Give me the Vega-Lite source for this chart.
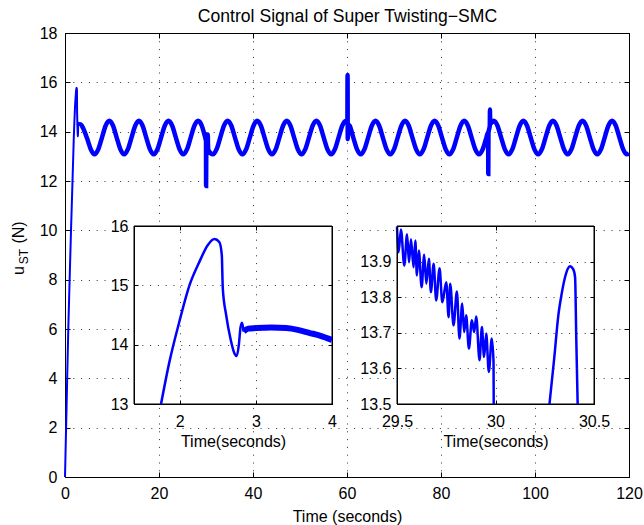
{
  "$schema": "https://vega.github.io/schema/vega-lite/v6.json",
  "width": 564,
  "height": 444,
  "autosize": {"type": "none"},
  "padding": {"left": 65, "top": 33, "right": 15, "bottom": 48},
  "background": "white",
  "config": {
    "font": "Liberation Sans",
    "view": {"stroke": "black", "strokeWidth": 1},
    "axis": {
      "labelFont": "Liberation Sans", "labelFontSize": 16, "labelColor": "black",
      "titleFont": "Liberation Sans", "titleFontSize": 16, "titleFontWeight": "normal", "titleColor": "black",
      "domainColor": "black", "domainWidth": 1, "tickColor": "black", "tickWidth": 1,
      "gridColor": "#333333", "gridDash": [1, 6.8], "gridWidth": 1, "gridOpacity": 1,
      "labelFlush": false, "labelOverlap": false, "labelBound": false
    }
  },
  "datasets": {
    "main": [
      {"t":0,"u":0},{"t":0.35,"u":3},{"t":0.7,"u":6},{"t":1.0,"u":8.1},{"t":1.28,"u":10},{"t":1.55,"u":11.7},{"t":1.755,"u":13.0},{"t":1.865,"u":13.71},{"t":1.996,"u":14.39},{"t":2.128,"u":15.0},{"t":2.26,"u":15.4},{"t":2.37,"u":15.68},{"t":2.457,"u":15.78},{"t":2.52,"u":15.73},{"t":2.553,"u":15.51},{"t":2.566,"u":14.95},{"t":2.61,"u":14.5},{"t":2.667,"u":14.1},{"t":2.72,"u":13.85},{"t":2.75,"u":13.81},{"t":2.776,"u":13.99},{"t":2.8,"u":14.3},{"t":2.82,"u":14.37},{"t":2.84,"u":14.25},
      {"t":2.9,"u":14.27},{"t":3.14,"u":14.3},{"t":3.4,"u":14.28},{"t":3.62,"u":14.23},{"t":3.84,"u":14.15},{"t":4.0,"u":14.08},{"t":4.71,"u":13.72},{"t":5.5,"u":13.28},{"t":6.29,"u":13.08},{"t":7.07,"u":13.28},{"t":7.86,"u":13.76},{"t":8.64,"u":14.24},
      {"t":9.43,"u":14.44},{"t":10.22,"u":14.24},{"t":11.0,"u":13.76},{"t":11.79,"u":13.28},{"t":12.58,"u":13.08},{"t":13.36,"u":13.28},{"t":14.15,"u":13.76},{"t":14.94,"u":14.24},
      {"t":15.72,"u":14.44},{"t":16.51,"u":14.24},{"t":17.29,"u":13.76},{"t":18.08,"u":13.28},{"t":18.87,"u":13.08},{"t":19.65,"u":13.28},{"t":20.44,"u":13.76},{"t":21.23,"u":14.24},
      {"t":22.02,"u":14.44},{"t":22.81,"u":14.24},{"t":23.59,"u":13.76},{"t":24.38,"u":13.28},{"t":25.17,"u":13.08},{"t":25.95,"u":13.28},{"t":26.74,"u":13.76},{"t":27.53,"u":14.24},
      {"t":28.31,"u":14.44},{"t":29.1,"u":14.24},{"t":29.5,"u":14.0},{"t":29.88,"u":13.72},{"t":30.0,"u":13.62},{"t":30.02,"u":11.8},{"t":30.06,"u":13.2},{"t":30.2,"u":13.3},{"t":30.27,"u":13.5},{"t":30.32,"u":13.75},{"t":30.38,"u":13.89},{"t":30.42,"u":13.5},{"t":30.5,"u":13.25},{"t":31.46,"u":13.08},{"t":32.24,"u":13.28},{"t":33.03,"u":13.76},{"t":33.82,"u":14.24},
      {"t":34.6,"u":14.44},{"t":35.39,"u":14.24},{"t":36.17,"u":13.76},{"t":36.96,"u":13.28},{"t":37.75,"u":13.08},{"t":38.53,"u":13.28},{"t":39.32,"u":13.76},{"t":40.11,"u":14.24},
      {"t":40.89,"u":14.44},{"t":41.68,"u":14.24},{"t":42.46,"u":13.76},{"t":43.25,"u":13.28},{"t":44.04,"u":13.08},{"t":44.82,"u":13.28},{"t":45.61,"u":13.76},{"t":46.4,"u":14.24},
      {"t":47.18,"u":14.44},{"t":47.97,"u":14.24},{"t":48.75,"u":13.76},{"t":49.54,"u":13.28},{"t":50.33,"u":13.08},{"t":51.11,"u":13.28},{"t":51.9,"u":13.76},{"t":52.69,"u":14.24},
      {"t":53.48,"u":14.44},{"t":54.27,"u":14.24},{"t":55.05,"u":13.76},{"t":55.84,"u":13.28},{"t":56.63,"u":13.08},{"t":57.41,"u":13.28},{"t":58.2,"u":13.76},{"t":58.99,"u":14.24},
      {"t":59.77,"u":14.44},{"t":60.08,"u":14.4},{"t":60.12,"u":16.3},{"t":60.16,"u":13.7},{"t":60.25,"u":14.3},{"t":60.56,"u":14.24},{"t":61.34,"u":13.76},{"t":62.13,"u":13.28},{"t":62.92,"u":13.08},{"t":63.7,"u":13.28},{"t":64.49,"u":13.76},{"t":65.28,"u":14.24},
      {"t":66.06,"u":14.44},{"t":66.85,"u":14.24},{"t":67.63,"u":13.76},{"t":68.42,"u":13.28},{"t":69.21,"u":13.08},{"t":69.99,"u":13.28},{"t":70.78,"u":13.76},{"t":71.57,"u":14.24},
      {"t":72.35,"u":14.44},{"t":73.14,"u":14.24},{"t":73.92,"u":13.76},{"t":74.71,"u":13.28},{"t":75.5,"u":13.08},{"t":76.28,"u":13.28},{"t":77.07,"u":13.76},{"t":77.86,"u":14.24},
      {"t":78.64,"u":14.44},{"t":79.43,"u":14.24},{"t":80.21,"u":13.76},{"t":81.0,"u":13.28},{"t":81.79,"u":13.08},{"t":82.57,"u":13.28},{"t":83.36,"u":13.76},{"t":84.15,"u":14.24},
      {"t":84.94,"u":14.44},{"t":85.73,"u":14.24},{"t":86.51,"u":13.76},{"t":87.3,"u":13.28},{"t":88.09,"u":13.08},{"t":88.87,"u":13.28},{"t":89.66,"u":13.76},{"t":90.03,"u":13.98},{"t":90.06,"u":12.28},{"t":90.1,"u":13.95},{"t":90.38,"u":14.25},{"t":90.42,"u":14.9},{"t":90.46,"u":14.32},
      {"t":91.23,"u":14.44},{"t":92.02,"u":14.24},{"t":92.8,"u":13.76},{"t":93.59,"u":13.28},{"t":94.38,"u":13.08},{"t":95.16,"u":13.28},{"t":95.95,"u":13.76},{"t":96.74,"u":14.24},
      {"t":97.52,"u":14.44},{"t":98.31,"u":14.24},{"t":99.09,"u":13.76},{"t":99.88,"u":13.28},{"t":100.67,"u":13.08},{"t":101.45,"u":13.28},{"t":102.24,"u":13.76},{"t":103.03,"u":14.24},
      {"t":103.81,"u":14.44},{"t":104.6,"u":14.24},{"t":105.38,"u":13.76},{"t":106.17,"u":13.28},{"t":106.96,"u":13.08},{"t":107.74,"u":13.28},{"t":108.53,"u":13.76},{"t":109.32,"u":14.24},
      {"t":110.1,"u":14.44},{"t":110.89,"u":14.24},{"t":111.67,"u":13.76},{"t":112.46,"u":13.28},{"t":113.25,"u":13.08},{"t":114.03,"u":13.28},{"t":114.82,"u":13.76},{"t":115.61,"u":14.24},
      {"t":116.4,"u":14.44},{"t":117.19,"u":14.24},{"t":117.97,"u":13.76},{"t":118.76,"u":13.28},{"t":119.55,"u":13.08},{"t":120.0,"u":13.12}
    ],
    "inset1": [
      {"t":1.755,"u":13.0},{"t":1.865,"u":13.71},{"t":1.996,"u":14.39},{"t":2.128,"u":15.0},{"t":2.26,"u":15.4},{"t":2.37,"u":15.68},{"t":2.457,"u":15.78},{"t":2.52,"u":15.73},{"t":2.553,"u":15.51},{"t":2.566,"u":14.95},{"t":2.61,"u":14.5},{"t":2.667,"u":14.1},{"t":2.72,"u":13.85},{"t":2.75,"u":13.81},{"t":2.776,"u":13.99},{"t":2.8,"u":14.3},{"t":2.82,"u":14.37},{"t":2.84,"u":14.22},
      {"t":2.9,"u":14.27},{"t":3.0,"u":14.28},{"t":3.2,"u":14.29},{"t":3.4,"u":14.28},{"t":3.55,"u":14.25},{"t":3.7,"u":14.2},{"t":3.85,"u":14.15},{"t":4.0,"u":14.08}
    ],
    "inset2": [
      {"seg":"a","t":29.5,"u":13.998},{"seg":"a","t":29.508,"u":13.926},{"seg":"a","t":29.52,"u":13.99},{"seg":"a","t":29.537,"u":13.889},{"seg":"a","t":29.551,"u":13.977},{"seg":"a","t":29.561,"u":13.898},{"seg":"a","t":29.571,"u":13.963},{"seg":"a","t":29.584,"u":13.884},{"seg":"a","t":29.593,"u":13.959},{"seg":"a","t":29.601,"u":13.861},{"seg":"a","t":29.611,"u":13.931},{"seg":"a","t":29.625,"u":13.828},{"seg":"a","t":29.638,"u":13.919},{"seg":"a","t":29.649,"u":13.838},{"seg":"a","t":29.662,"u":13.908},{"seg":"a","t":29.672,"u":13.814},{"seg":"a","t":29.686,"u":13.894},{"seg":"a","t":29.699,"u":13.791},{"seg":"a","t":29.716,"u":13.881},{"seg":"a","t":29.73,"u":13.786},{"seg":"a","t":29.75,"u":13.842},{"seg":"a","t":29.762,"u":13.744},{"seg":"a","t":29.77,"u":13.838},{"seg":"a","t":29.787,"u":13.721},{"seg":"a","t":29.804,"u":13.816},{"seg":"a","t":29.817,"u":13.684},{"seg":"a","t":29.831,"u":13.782},{"seg":"a","t":29.841,"u":13.702},{"seg":"a","t":29.851,"u":13.749},{"seg":"a","t":29.865,"u":13.656},{"seg":"a","t":29.88,"u":13.735},{"seg":"a","t":29.892,"u":13.702},{"seg":"a","t":29.902,"u":13.746},{"seg":"a","t":29.919,"u":13.623},{"seg":"a","t":29.931,"u":13.716},{"seg":"a","t":29.942,"u":13.632},{"seg":"a","t":29.953,"u":13.698},{"seg":"a","t":29.966,"u":13.59},{"seg":"a","t":29.981,"u":13.684},{"seg":"a","t":29.99,"u":13.618},{"seg":"a","t":29.991,"u":13.5},
      {"seg":"b","t":30.274,"u":13.5},{"seg":"b","t":30.298,"u":13.628},{"seg":"b","t":30.319,"u":13.749},{"seg":"b","t":30.336,"u":13.81},{"seg":"b","t":30.353,"u":13.856},{"seg":"b","t":30.367,"u":13.88},{"seg":"b","t":30.378,"u":13.887},{"seg":"b","t":30.395,"u":13.878},{"seg":"b","t":30.404,"u":13.856},{"seg":"b","t":30.41,"u":13.684},{"seg":"b","t":30.417,"u":13.5}
    ]
  },
  "layer": [
    {
      "layer": [
        {
          "data": {"name": "main"},
          "transform": [{"filter": "datum.t <= 2.84"}],
          "mark": {"type": "line", "color": "#0000ff", "strokeWidth": 2, "interpolate": "monotone"},
          "encoding": {
            "x": {"field": "t", "type": "quantitative", "scale": {"domain": [0, 120], "nice": false, "zero": false},
                  "axis": {"orient": "bottom", "values": [0, 20, 40, 60, 80, 100, 120], "grid": true, "tickSize": -5, "labelPadding": 13, "title": "Time (seconds)", "titleY": 44, "titleBaseline": "alphabetic"}},
            "y": {"field": "u", "type": "quantitative", "scale": {"domain": [0, 18], "nice": false, "zero": false},
                  "axis": {"orient": "left", "values": [0, 2, 4, 6, 8, 10, 12, 14, 16, 18], "grid": true, "tickSize": -5, "labelPadding": 13, "title": "u", "titleX": -42, "titleY": 237, "titleAngle": 270, "titleAlign": "center", "titleBaseline": "alphabetic"}}
          }
        },
        {
          "data": {"name": "main"},
          "transform": [{"filter": "datum.t >= 2.84"}],
          "mark": {"type": "line", "color": "#0000ff", "strokeWidth": 4.5, "interpolate": "monotone"},
          "encoding": {
            "x": {"field": "t", "type": "quantitative", "scale": {"domain": [0, 120], "nice": false, "zero": false},
                  "axis": {"orient": "top", "values": [0, 20, 40, 60, 80, 100, 120], "grid": false, "labels": false, "tickSize": -5, "title": "Control Signal of Super Twisting−SMC", "titleFontSize": 17.6, "titleY": -12, "titleAlign": "center", "titleBaseline": "alphabetic"}},
            "y": {"field": "u", "type": "quantitative", "scale": {"domain": [0, 18], "nice": false, "zero": false},
                  "axis": {"orient": "right", "values": [0, 2, 4, 6, 8, 10, 12, 14, 16, 18], "grid": false, "labels": false, "tickSize": -5, "title": null}}
          }
        },
        {
          "data": {"name": "main"},
          "mark": {"type": "line", "strokeOpacity": 0},
          "encoding": {
            "x": {"field": "t", "type": "quantitative", "scale": {"domain": [0, 120], "nice": false, "zero": false}, "axis": null},
            "y": {"field": "u", "type": "quantitative", "scale": {"domain": [0, 18], "nice": false, "zero": false},
                  "axis": {"orient": "left", "grid": false, "labels": false, "ticks": false, "domain": false, "title": "ST", "titleFontSize": 12, "titleX": -38, "titleY": 223, "titleAngle": 270, "titleAlign": "center", "titleBaseline": "alphabetic"}}
          }
        },
        {
          "data": {"name": "main"},
          "mark": {"type": "line", "strokeOpacity": 0},
          "encoding": {
            "x": {"field": "t", "type": "quantitative", "scale": {"domain": [0, 120], "nice": false, "zero": false}, "axis": null},
            "y": {"field": "u", "type": "quantitative", "scale": {"domain": [0, 18], "nice": false, "zero": false},
                  "axis": {"orient": "left", "grid": false, "labels": false, "ticks": false, "domain": false, "title": "(N)", "titleX": -42, "titleY": 199, "titleAngle": 270, "titleAlign": "center", "titleBaseline": "alphabetic"}}
          }
        }
      ],
      "resolve": {"axis": {"x": "independent", "y": "independent"}}
    },
    {
      "layer": [
        {
          "data": {"values": [{}]},
          "mark": {"type": "rect", "fill": "white", "stroke": "black", "strokeWidth": 1},
          "encoding": {
            "x": {"datum": 1.4, "type": "quantitative", "scale": {"domain": [1.4, 4], "range": [69, 267], "nice": false, "zero": false},
                  "axis": {"orient": "bottom", "offset": -73, "values": [2, 3, 4], "format": "~g", "grid": false, "tickSize": -4, "labelPadding": 13, "title": "Time(seconds)", "titleY": 42, "titleBaseline": "alphabetic", "zindex": 1}},
            "x2": {"datum": 4},
            "y": {"datum": 13, "type": "quantitative", "scale": {"domain": [13, 16], "range": [371, 193], "nice": false, "zero": false},
                  "axis": {"orient": "left", "offset": -69, "values": [13, 14, 15, 16], "format": "~g", "grid": true, "tickSize": -4, "labelPadding": 10, "title": null, "zindex": 1}},
            "y2": {"datum": 16}
          }
        },
        {
          "data": {"name": "inset1"},
          "transform": [{"filter": "datum.t <= 2.84"}],
          "mark": {"type": "line", "color": "#0000ff", "strokeWidth": 2.5, "interpolate": "monotone"},
          "encoding": {
            "x": {"field": "t", "type": "quantitative", "scale": {"domain": [1.4, 4], "range": [69, 267], "nice": false, "zero": false},
                  "axis": {"orient": "top", "offset": -193, "values": [2, 3, 4], "grid": true, "labels": false, "tickSize": -4, "title": null, "zindex": 1}},
            "y": {"field": "u", "type": "quantitative", "scale": {"domain": [13, 16], "range": [371, 193], "nice": false, "zero": false},
                  "axis": {"orient": "right", "offset": -297, "values": [13, 14, 15, 16], "grid": false, "labels": false, "tickSize": -4, "title": null, "zindex": 1}}
          }
        },
        {
          "data": {"name": "inset1"},
          "transform": [{"filter": "datum.t >= 2.84"}],
          "mark": {"type": "line", "color": "#0000ff", "strokeWidth": 6, "interpolate": "monotone"},
          "encoding": {
            "x": {"field": "t", "type": "quantitative", "scale": {"domain": [1.4, 4], "range": [69, 267], "nice": false, "zero": false}, "axis": null},
            "y": {"field": "u", "type": "quantitative", "scale": {"domain": [13, 16], "range": [371, 193], "nice": false, "zero": false}, "axis": null}
          }
        }
      ],
      "resolve": {"axis": {"x": "independent", "y": "independent"}}
    },
    {
      "layer": [
        {
          "data": {"values": [{}]},
          "mark": {"type": "rect", "fill": "white", "stroke": "black", "strokeWidth": 1},
          "encoding": {
            "x": {"datum": 29.5, "type": "quantitative", "scale": {"domain": [29.5, 30.5], "range": [332, 529], "nice": false, "zero": false},
                  "axis": {"orient": "bottom", "offset": -73, "values": [29.5, 30, 30.5], "format": "~g", "grid": false, "tickSize": -4, "labelPadding": 13, "title": "Time(seconds)", "titleY": 42, "titleBaseline": "alphabetic", "zindex": 1}},
            "x2": {"datum": 30.5},
            "y": {"datum": 13.5, "type": "quantitative", "scale": {"domain": [13.5, 14], "range": [371, 193], "nice": false, "zero": false},
                  "axis": {"orient": "left", "offset": -332, "values": [13.5, 13.6, 13.7, 13.8, 13.9], "format": ".1f", "grid": true, "tickSize": -4, "labelPadding": 10, "title": null, "zindex": 1}},
            "y2": {"datum": 14}
          }
        },
        {
          "data": {"name": "inset2"},
          "mark": {"type": "line", "color": "#0000ff", "strokeWidth": 2.5, "interpolate": "monotone"},
          "encoding": {
            "detail": {"field": "seg", "type": "nominal"},
            "x": {"field": "t", "type": "quantitative", "scale": {"domain": [29.5, 30.5], "range": [332, 529], "nice": false, "zero": false},
                  "axis": {"orient": "top", "offset": -193, "values": [29.5, 30, 30.5], "grid": true, "labels": false, "tickSize": -4, "title": null, "zindex": 1}},
            "y": {"field": "u", "type": "quantitative", "scale": {"domain": [13.5, 14], "range": [371, 193], "nice": false, "zero": false},
                  "axis": {"orient": "right", "offset": -35, "values": [13.5, 13.6, 13.7, 13.8, 13.9], "grid": false, "labels": false, "tickSize": -4, "title": null, "zindex": 1}}
          }
        }
      ],
      "resolve": {"axis": {"x": "independent", "y": "independent"}}
    }
  ],
  "resolve": {"scale": {"x": "independent", "y": "independent"}}
}
